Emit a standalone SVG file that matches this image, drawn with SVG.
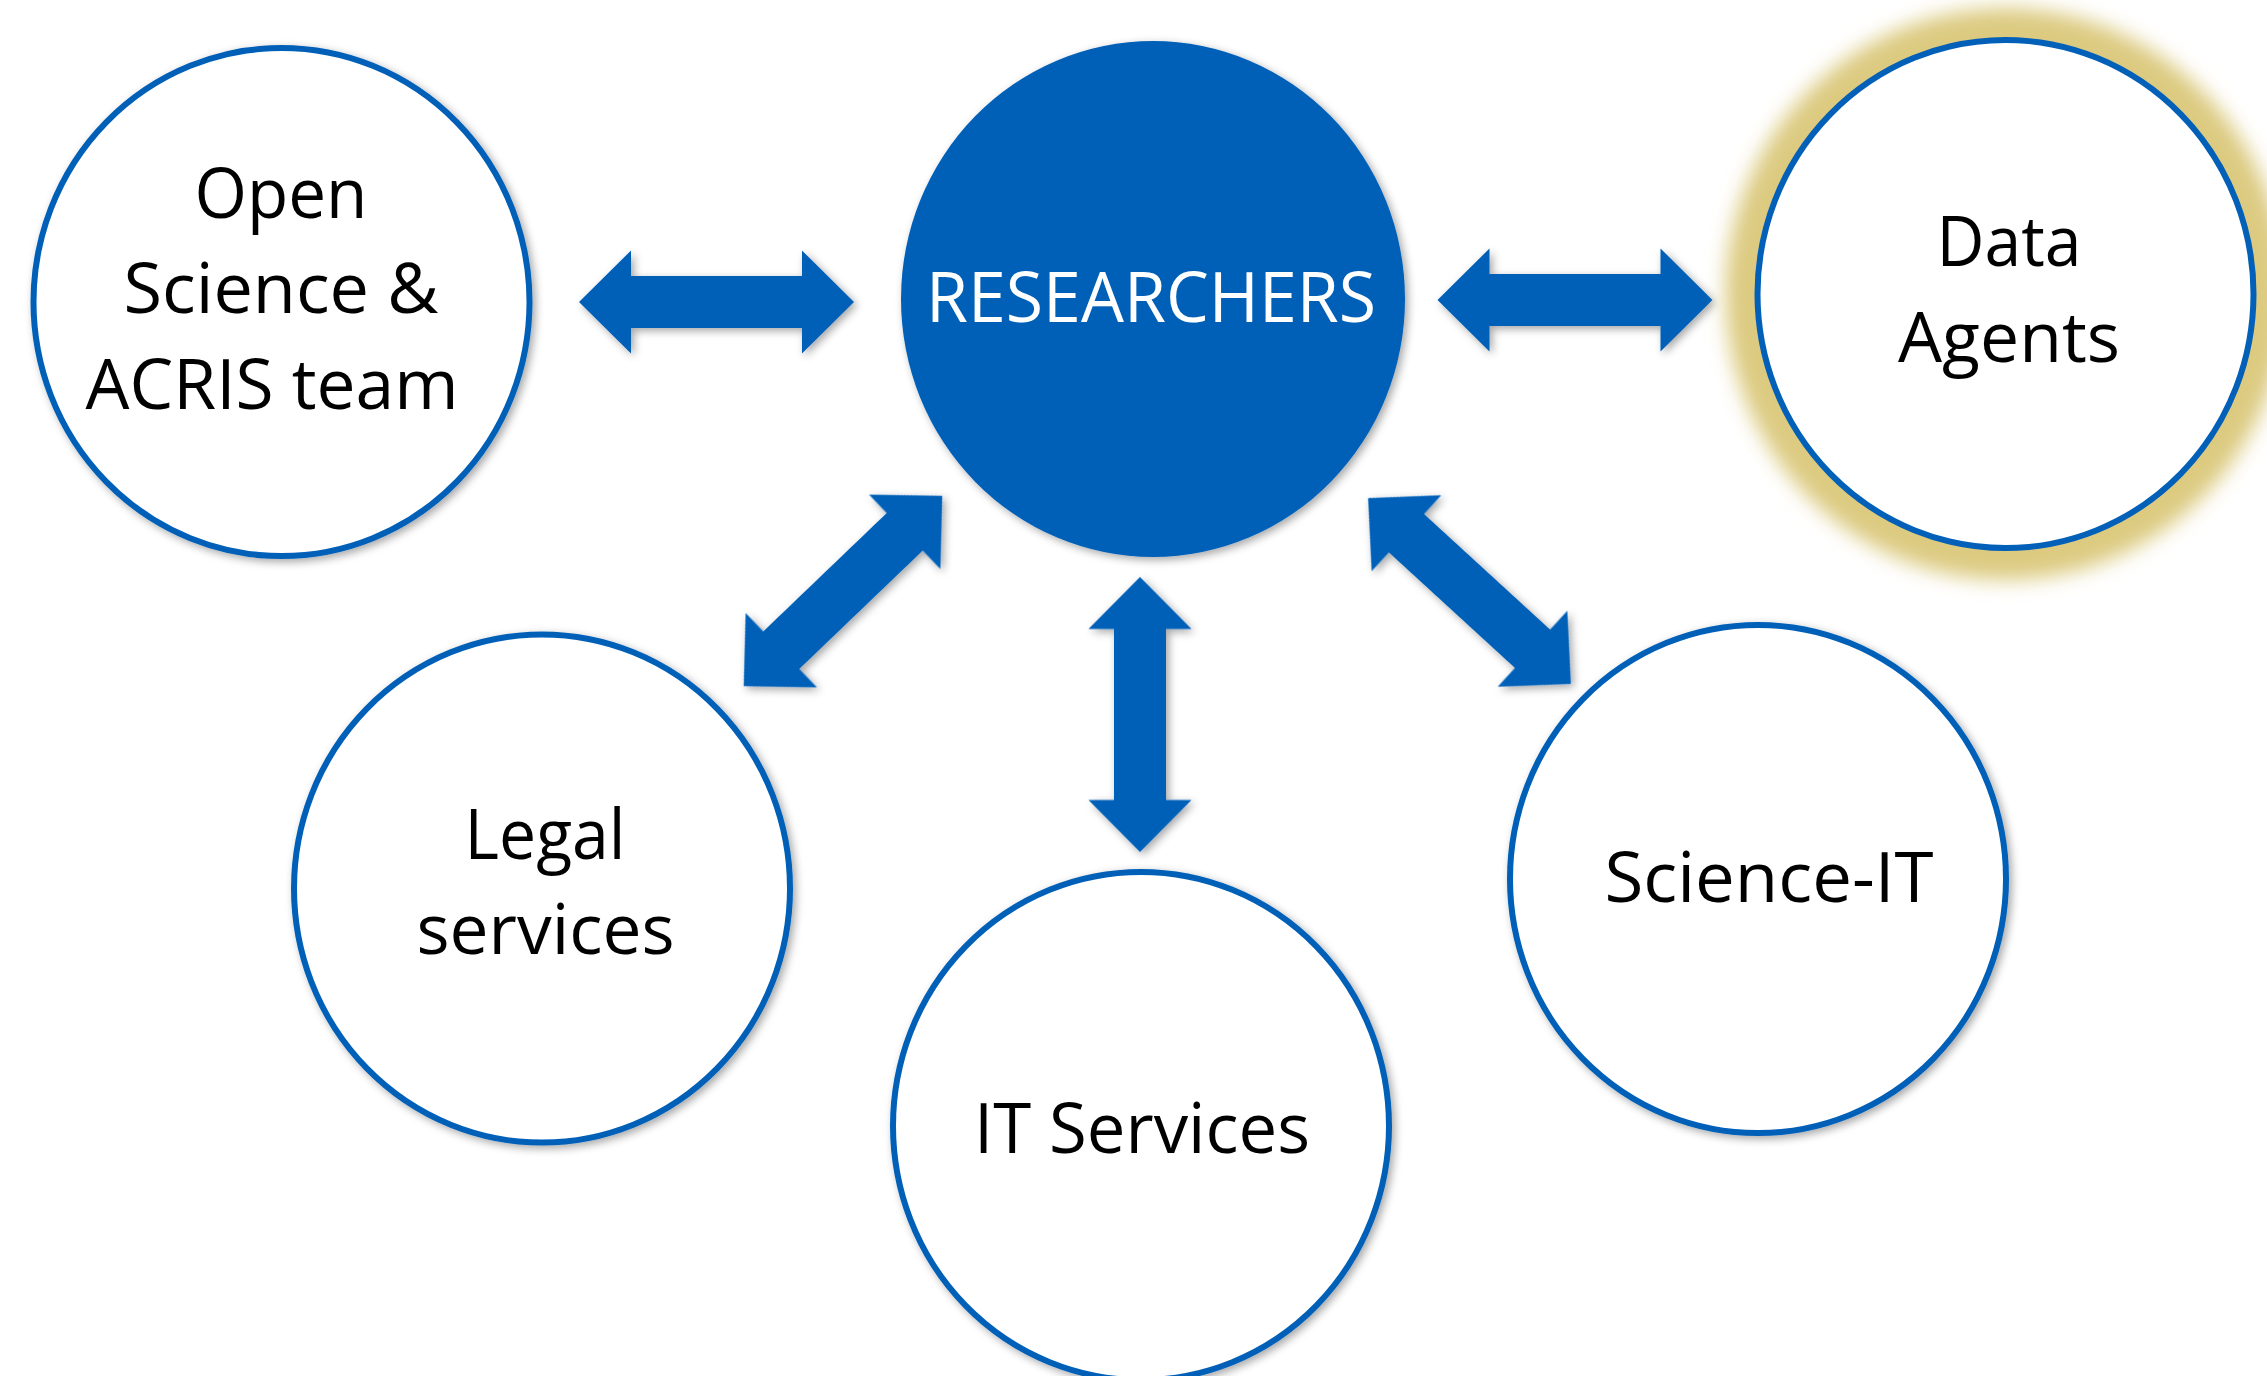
<svg xmlns="http://www.w3.org/2000/svg" xmlns:xlink="http://www.w3.org/1999/xlink" width="2267" height="1376" viewBox="0 0 2267 1376">
  <style>
    .node { fill: #ffffff; stroke: #0360B8; stroke-width: 6; }
    .hub { fill: #0360B8; }
    .arrow { fill: #0360B8; }
    .lbl { font-family: "Open Sans", "Liberation Sans", sans-serif; font-size: 70px; fill: #000000; text-anchor: middle; }
    .lbl-w { fill: #ffffff; }
  </style>
  <defs>
    <filter id="shadow" x="-20%" y="-20%" width="140%" height="140%">
      <feDropShadow dx="3" dy="3" stdDeviation="4" flood-color="#000000" flood-opacity="0.35"/>
    </filter>
    <filter id="glow" x="-30%" y="-30%" width="160%" height="160%">
      <feGaussianBlur stdDeviation="10"/>
    </filter>
    <path id="dbl" d="M -137.5 0 L -85.5 -51.5 L -85.5 -26 L 85.5 -26 L 85.5 -51.5 L 137.5 0 L 85.5 51.5 L 85.5 26 L -85.5 26 L -85.5 51.5 Z"/>
  </defs>
  <rect width="2267" height="1376" fill="#ffffff"/>

  <g id="connectors" filter="url(#shadow)">
    <use href="#dbl" class="arrow" transform="translate(716.5,302)"/>
    <use href="#dbl" class="arrow" transform="translate(1575,300)"/>
    <use href="#dbl" class="arrow" transform="translate(1140,714.5) rotate(90)"/>
    <use href="#dbl" class="arrow" transform="translate(843,591) rotate(-43.8)"/>
    <use href="#dbl" class="arrow" transform="translate(1469.5,591) rotate(42.5)"/>
  </g>

  <g id="node-open-science">
    <ellipse cx="281.5" cy="302" rx="248" ry="254" class="node" filter="url(#shadow)"/>
    <text class="lbl" x="281" y="218" textLength="173" lengthAdjust="spacingAndGlyphs">Open</text>
    <text class="lbl" x="281" y="313" textLength="315" lengthAdjust="spacingAndGlyphs">Science &amp;</text>
    <text class="lbl" x="272" y="409" textLength="373" lengthAdjust="spacingAndGlyphs">ACRIS team</text>
  </g>

  <g id="node-researchers">
    <ellipse cx="1153" cy="299" rx="252" ry="258" class="hub" filter="url(#shadow)"/>
    <text class="lbl lbl-w" x="1151" y="322" textLength="450" lengthAdjust="spacingAndGlyphs">RESEARCHERS</text>
  </g>

  <g id="node-data-agents">
    <ellipse cx="2005.5" cy="294" rx="280" ry="286" fill="#DCCA80" filter="url(#glow)"/>
    <ellipse cx="2005.5" cy="294" rx="248" ry="254" class="node"/>
    <text class="lbl" x="2009" y="266" textLength="145" lengthAdjust="spacingAndGlyphs">Data</text>
    <text class="lbl" x="2009" y="362" textLength="222" lengthAdjust="spacingAndGlyphs">Agents</text>
  </g>

  <g id="node-legal">
    <ellipse cx="542" cy="888.5" rx="248" ry="254" class="node" filter="url(#shadow)"/>
    <text class="lbl" x="545" y="859" textLength="161" lengthAdjust="spacingAndGlyphs">Legal</text>
    <text class="lbl" x="545.5" y="954" textLength="258" lengthAdjust="spacingAndGlyphs">services</text>
  </g>

  <g id="node-it-services">
    <ellipse cx="1141" cy="1126" rx="248" ry="254" class="node" filter="url(#shadow)"/>
    <text class="lbl" x="1142" y="1153" textLength="336" lengthAdjust="spacingAndGlyphs">IT Services</text>
  </g>

  <g id="node-science-it">
    <ellipse cx="1758" cy="879" rx="248" ry="254" class="node" filter="url(#shadow)"/>
    <text class="lbl" x="1769" y="902" textLength="329" lengthAdjust="spacingAndGlyphs">Science-IT</text>
  </g>
</svg>
